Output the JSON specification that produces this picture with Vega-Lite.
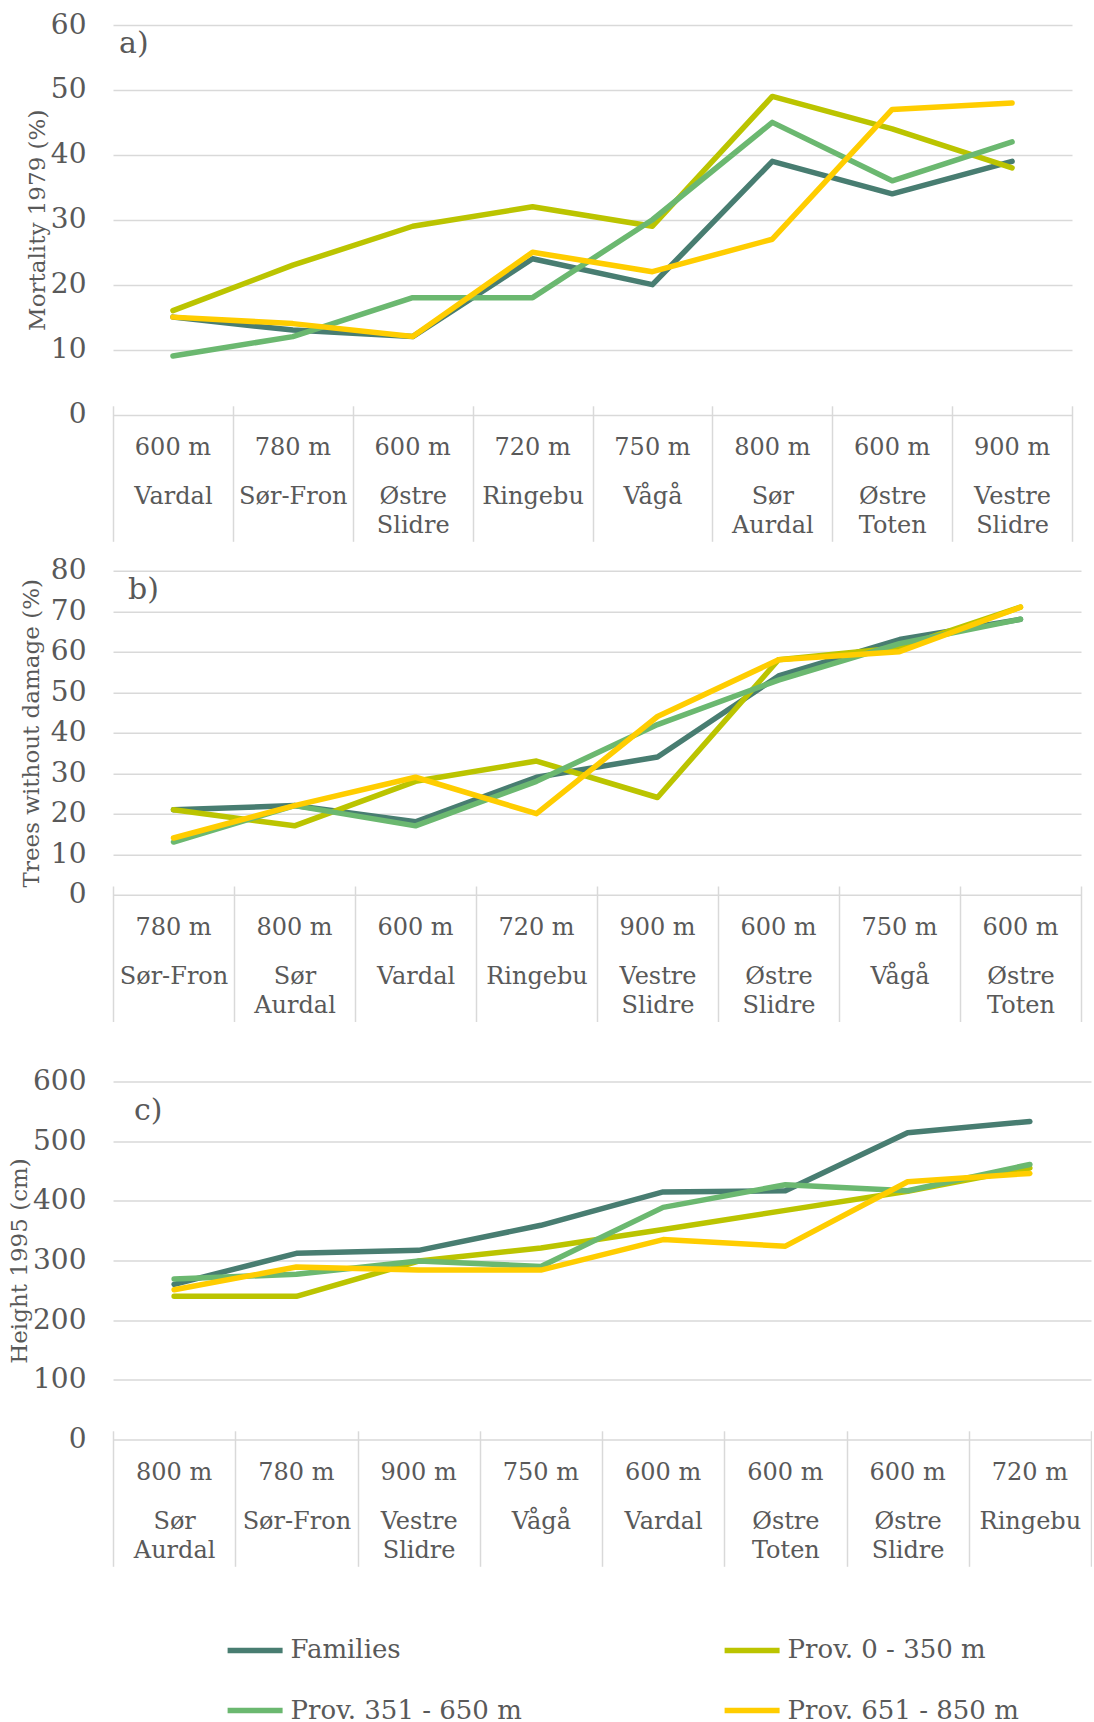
{
  "$schema": "https://vega.github.io/schema/vega-lite/v6.json",
  "padding": {"left": 8, "top": 11, "right": 0, "bottom": 0},
  "background": "white",
  "datasets": {
    "mortality": [
      {"site": "600 m|Vardal", "series": "Families", "v": 15},
      {"site": "780 m|Sør-Fron", "series": "Families", "v": 13},
      {"site": "600 m|Østre Slidre", "series": "Families", "v": 12},
      {"site": "720 m|Ringebu", "series": "Families", "v": 24},
      {"site": "750 m|Vågå", "series": "Families", "v": 20},
      {"site": "800 m|Sør Aurdal", "series": "Families", "v": 39},
      {"site": "600 m|Østre Toten", "series": "Families", "v": 34},
      {"site": "900 m|Vestre Slidre", "series": "Families", "v": 39},
      {"site": "600 m|Vardal", "series": "Prov. 0 - 350 m", "v": 16},
      {"site": "780 m|Sør-Fron", "series": "Prov. 0 - 350 m", "v": 23},
      {"site": "600 m|Østre Slidre", "series": "Prov. 0 - 350 m", "v": 29},
      {"site": "720 m|Ringebu", "series": "Prov. 0 - 350 m", "v": 32},
      {"site": "750 m|Vågå", "series": "Prov. 0 - 350 m", "v": 29},
      {"site": "800 m|Sør Aurdal", "series": "Prov. 0 - 350 m", "v": 49},
      {"site": "600 m|Østre Toten", "series": "Prov. 0 - 350 m", "v": 44},
      {"site": "900 m|Vestre Slidre", "series": "Prov. 0 - 350 m", "v": 38},
      {"site": "600 m|Vardal", "series": "Prov. 351 - 650 m", "v": 9},
      {"site": "780 m|Sør-Fron", "series": "Prov. 351 - 650 m", "v": 12},
      {"site": "600 m|Østre Slidre", "series": "Prov. 351 - 650 m", "v": 18},
      {"site": "720 m|Ringebu", "series": "Prov. 351 - 650 m", "v": 18},
      {"site": "750 m|Vågå", "series": "Prov. 351 - 650 m", "v": 30},
      {"site": "800 m|Sør Aurdal", "series": "Prov. 351 - 650 m", "v": 45},
      {"site": "600 m|Østre Toten", "series": "Prov. 351 - 650 m", "v": 36},
      {"site": "900 m|Vestre Slidre", "series": "Prov. 351 - 650 m", "v": 42},
      {"site": "600 m|Vardal", "series": "Prov. 651 - 850 m", "v": 15},
      {"site": "780 m|Sør-Fron", "series": "Prov. 651 - 850 m", "v": 14},
      {"site": "600 m|Østre Slidre", "series": "Prov. 651 - 850 m", "v": 12},
      {"site": "720 m|Ringebu", "series": "Prov. 651 - 850 m", "v": 25},
      {"site": "750 m|Vågå", "series": "Prov. 651 - 850 m", "v": 22},
      {"site": "800 m|Sør Aurdal", "series": "Prov. 651 - 850 m", "v": 27},
      {"site": "600 m|Østre Toten", "series": "Prov. 651 - 850 m", "v": 47},
      {"site": "900 m|Vestre Slidre", "series": "Prov. 651 - 850 m", "v": 48}
    ],
    "undamaged": [
      {"site": "780 m|Sør-Fron", "series": "Families", "v": 21},
      {"site": "800 m|Sør Aurdal", "series": "Families", "v": 22},
      {"site": "600 m|Vardal", "series": "Families", "v": 18},
      {"site": "720 m|Ringebu", "series": "Families", "v": 29},
      {"site": "900 m|Vestre Slidre", "series": "Families", "v": 34},
      {"site": "600 m|Østre Slidre", "series": "Families", "v": 54},
      {"site": "750 m|Vågå", "series": "Families", "v": 63},
      {"site": "600 m|Østre Toten", "series": "Families", "v": 68},
      {"site": "780 m|Sør-Fron", "series": "Prov. 0 - 350 m", "v": 21},
      {"site": "800 m|Sør Aurdal", "series": "Prov. 0 - 350 m", "v": 17},
      {"site": "600 m|Vardal", "series": "Prov. 0 - 350 m", "v": 28},
      {"site": "720 m|Ringebu", "series": "Prov. 0 - 350 m", "v": 33},
      {"site": "900 m|Vestre Slidre", "series": "Prov. 0 - 350 m", "v": 24},
      {"site": "600 m|Østre Slidre", "series": "Prov. 0 - 350 m", "v": 58},
      {"site": "750 m|Vågå", "series": "Prov. 0 - 350 m", "v": 61},
      {"site": "600 m|Østre Toten", "series": "Prov. 0 - 350 m", "v": 71},
      {"site": "780 m|Sør-Fron", "series": "Prov. 351 - 650 m", "v": 13},
      {"site": "800 m|Sør Aurdal", "series": "Prov. 351 - 650 m", "v": 22},
      {"site": "600 m|Vardal", "series": "Prov. 351 - 650 m", "v": 17},
      {"site": "720 m|Ringebu", "series": "Prov. 351 - 650 m", "v": 28},
      {"site": "900 m|Vestre Slidre", "series": "Prov. 351 - 650 m", "v": 42},
      {"site": "600 m|Østre Slidre", "series": "Prov. 351 - 650 m", "v": 53},
      {"site": "750 m|Vågå", "series": "Prov. 351 - 650 m", "v": 62},
      {"site": "600 m|Østre Toten", "series": "Prov. 351 - 650 m", "v": 68},
      {"site": "780 m|Sør-Fron", "series": "Prov. 651 - 850 m", "v": 14},
      {"site": "800 m|Sør Aurdal", "series": "Prov. 651 - 850 m", "v": 22},
      {"site": "600 m|Vardal", "series": "Prov. 651 - 850 m", "v": 29},
      {"site": "720 m|Ringebu", "series": "Prov. 651 - 850 m", "v": 20},
      {"site": "900 m|Vestre Slidre", "series": "Prov. 651 - 850 m", "v": 44},
      {"site": "600 m|Østre Slidre", "series": "Prov. 651 - 850 m", "v": 58},
      {"site": "750 m|Vågå", "series": "Prov. 651 - 850 m", "v": 60},
      {"site": "600 m|Østre Toten", "series": "Prov. 651 - 850 m", "v": 71}
    ],
    "height": [
      {"site": "800 m|Sør Aurdal", "series": "Families", "v": 260},
      {"site": "780 m|Sør-Fron", "series": "Families", "v": 312},
      {"site": "900 m|Vestre Slidre", "series": "Families", "v": 317},
      {"site": "750 m|Vågå", "series": "Families", "v": 359},
      {"site": "600 m|Vardal", "series": "Families", "v": 415},
      {"site": "600 m|Østre Toten", "series": "Families", "v": 417},
      {"site": "600 m|Østre Slidre", "series": "Families", "v": 514},
      {"site": "720 m|Ringebu", "series": "Families", "v": 533},
      {"site": "800 m|Sør Aurdal", "series": "Prov. 0 - 350 m", "v": 240},
      {"site": "780 m|Sør-Fron", "series": "Prov. 0 - 350 m", "v": 240},
      {"site": "900 m|Vestre Slidre", "series": "Prov. 0 - 350 m", "v": 299},
      {"site": "750 m|Vågå", "series": "Prov. 0 - 350 m", "v": 321},
      {"site": "600 m|Vardal", "series": "Prov. 0 - 350 m", "v": 352},
      {"site": "600 m|Østre Toten", "series": "Prov. 0 - 350 m", "v": 384},
      {"site": "600 m|Østre Slidre", "series": "Prov. 0 - 350 m", "v": 416},
      {"site": "720 m|Ringebu", "series": "Prov. 0 - 350 m", "v": 455},
      {"site": "800 m|Sør Aurdal", "series": "Prov. 351 - 650 m", "v": 269},
      {"site": "780 m|Sør-Fron", "series": "Prov. 351 - 650 m", "v": 277},
      {"site": "900 m|Vestre Slidre", "series": "Prov. 351 - 650 m", "v": 299},
      {"site": "750 m|Vågå", "series": "Prov. 351 - 650 m", "v": 290},
      {"site": "600 m|Vardal", "series": "Prov. 351 - 650 m", "v": 389},
      {"site": "600 m|Østre Toten", "series": "Prov. 351 - 650 m", "v": 427},
      {"site": "600 m|Østre Slidre", "series": "Prov. 351 - 650 m", "v": 417},
      {"site": "720 m|Ringebu", "series": "Prov. 351 - 650 m", "v": 461},
      {"site": "800 m|Sør Aurdal", "series": "Prov. 651 - 850 m", "v": 251},
      {"site": "780 m|Sør-Fron", "series": "Prov. 651 - 850 m", "v": 289},
      {"site": "900 m|Vestre Slidre", "series": "Prov. 651 - 850 m", "v": 284},
      {"site": "750 m|Vågå", "series": "Prov. 651 - 850 m", "v": 284},
      {"site": "600 m|Vardal", "series": "Prov. 651 - 850 m", "v": 335},
      {"site": "600 m|Østre Toten", "series": "Prov. 651 - 850 m", "v": 324},
      {"site": "600 m|Østre Slidre", "series": "Prov. 651 - 850 m", "v": 432},
      {"site": "720 m|Ringebu", "series": "Prov. 651 - 850 m", "v": 446}
    ]
  },
  "vconcat": [
    {
      "vconcat": [
        {
          "data": {"name": "mortality"},
          "width": 959,
          "height": 389.5,
          "title": {"text": "a)", "offset": -48, "dx": 6},
          "encoding": {
            "y": {"field": "v", "type": "quantitative",
                  "scale": {"domain": [0, 60], "nice": false},
                  "axis": {"title": "Mortality 1979 (%)", "titlePadding": 1, "values": [0, 10, 20, 30, 40, 50, 60]}},
            "color": {"field": "series", "type": "nominal",
                      "scale": {"domain": ["Families", "Prov. 0 - 350 m", "Prov. 351 - 650 m", "Prov. 651 - 850 m"],
                                "range": ["#487d71", "#bbc400", "#6bb870", "#ffcd00"]}}
          },
          "layer": [
            {
              "transform": [{"filter": "datum.series === 'Families'"}],
              "mark": "line",
              "encoding": {
                "x": {"field": "site", "type": "nominal", "bandPosition": 0.5,
                      "sort": ["600 m|Vardal", "780 m|Sør-Fron", "600 m|Østre Slidre", "720 m|Ringebu", "750 m|Vågå", "800 m|Sør Aurdal", "600 m|Østre Toten", "900 m|Vestre Slidre"],
                      "scale": {"type": "band", "paddingInner": 0, "paddingOuter": 0},
                      "axis": {"orient": "bottom", "ticks": false, "tickSize": 0, "labelPadding": 40,
                               "labelExpr": "isValid(datum.value) ? split(datum.value, '|')[0] : ''"}}
              }
            },
            {
              "transform": [{"filter": "datum.series !== 'Families'"}],
              "mark": "line",
              "encoding": {
                "x": {"field": "site", "type": "nominal", "bandPosition": 0.5,
                      "sort": ["600 m|Vardal", "780 m|Sør-Fron", "600 m|Østre Slidre", "720 m|Ringebu", "750 m|Vågå", "800 m|Sør Aurdal", "600 m|Østre Toten", "900 m|Vestre Slidre"],
                      "scale": {"type": "band", "paddingInner": 0, "paddingOuter": 0},
                      "axis": {"orient": "bottom", "ticks": true, "tickBand": "extent", "tickSize": 135.5, "offset": -8.7,
                               "labelPadding": -38.3, "labelLineHeight": 29.5,
                               "labelExpr": "isValid(datum.value) ? split(split(datum.value, '|')[1], ' ') : ''"}}
              }
            }
          ],
          "resolve": {"axis": {"x": "independent"}}
        },
        {
          "data": {"name": "undamaged"},
          "width": 968,
          "height": 324,
          "title": {"text": "b)", "offset": -48, "dx": 15},
          "encoding": {
            "y": {"field": "v", "type": "quantitative",
                  "scale": {"domain": [0, 80], "nice": false},
                  "axis": {"title": "Trees without damage (%)", "titlePadding": 7, "values": [0, 10, 20, 30, 40, 50, 60, 70, 80]}},
            "color": {"field": "series", "type": "nominal"}
          },
          "layer": [
            {
              "transform": [{"filter": "datum.series === 'Families'"}],
              "mark": "line",
              "encoding": {
                "x": {"field": "site", "type": "nominal", "bandPosition": 0.5,
                      "sort": ["780 m|Sør-Fron", "800 m|Sør Aurdal", "600 m|Vardal", "720 m|Ringebu", "900 m|Vestre Slidre", "600 m|Østre Slidre", "750 m|Vågå", "600 m|Østre Toten"],
                      "scale": {"type": "band", "paddingInner": 0, "paddingOuter": 0},
                      "axis": {"orient": "bottom", "ticks": false, "tickSize": 0, "labelPadding": 40,
                               "labelExpr": "isValid(datum.value) ? split(datum.value, '|')[0] : ''"}}
              }
            },
            {
              "transform": [{"filter": "datum.series !== 'Families'"}],
              "mark": "line",
              "encoding": {
                "x": {"field": "site", "type": "nominal", "bandPosition": 0.5,
                      "sort": ["780 m|Sør-Fron", "800 m|Sør Aurdal", "600 m|Vardal", "720 m|Ringebu", "900 m|Vestre Slidre", "600 m|Østre Slidre", "750 m|Vågå", "600 m|Østre Toten"],
                      "scale": {"type": "band", "paddingInner": 0, "paddingOuter": 0},
                      "axis": {"orient": "bottom", "ticks": true, "tickBand": "extent", "tickSize": 135.5, "offset": -8.7,
                               "labelPadding": -38.3, "labelLineHeight": 29.5,
                               "labelExpr": "isValid(datum.value) ? split(split(datum.value, '|')[1], ' ') : ''"}}
              }
            }
          ],
          "resolve": {"axis": {"x": "independent"}}
        }
      ],
      "spacing": 13.7
    },
    {
      "data": {"name": "height"},
      "width": 978,
      "height": 358,
      "title": {"text": "c)", "offset": -58, "dx": 21},
      "encoding": {
        "y": {"field": "v", "type": "quantitative",
              "scale": {"domain": [0, 600], "nice": false},
              "axis": {"title": "Height 1995 (cm)", "titlePadding": 1, "values": [0, 100, 200, 300, 400, 500, 600]}},
        "color": {"field": "series", "type": "nominal"}
      },
      "layer": [
        {
          "transform": [{"filter": "datum.series === 'Families'"}],
          "mark": "line",
          "encoding": {
            "x": {"field": "site", "type": "nominal", "bandPosition": 0.5,
                  "sort": ["800 m|Sør Aurdal", "780 m|Sør-Fron", "900 m|Vestre Slidre", "750 m|Vågå", "600 m|Vardal", "600 m|Østre Toten", "600 m|Østre Slidre", "720 m|Ringebu"],
                  "scale": {"type": "band", "paddingInner": 0, "paddingOuter": 0},
                  "axis": {"orient": "bottom", "ticks": false, "tickSize": 0, "labelPadding": 40,
                           "labelExpr": "isValid(datum.value) ? split(datum.value, '|')[0] : ''"}}
          }
        },
        {
          "transform": [{"filter": "datum.series !== 'Families'"}],
          "mark": "line",
          "encoding": {
            "x": {"field": "site", "type": "nominal", "bandPosition": 0.5,
                  "sort": ["800 m|Sør Aurdal", "780 m|Sør-Fron", "900 m|Vestre Slidre", "750 m|Vågå", "600 m|Vardal", "600 m|Østre Toten", "600 m|Østre Slidre", "720 m|Ringebu"],
                  "scale": {"type": "band", "paddingInner": 0, "paddingOuter": 0},
                  "axis": {"orient": "bottom", "ticks": true, "tickBand": "extent", "tickSize": 135.5, "offset": -8.7,
                           "labelPadding": -38.3, "labelLineHeight": 29.5,
                           "labelExpr": "isValid(datum.value) ? split(split(datum.value, '|')[1], ' ') : ''"}}
          }
        }
      ],
      "resolve": {"axis": {"x": "independent"}}
    }
  ],
  "spacing": 44.5,
  "config": {
    "font": "DejaVu Serif",
    "view": {"stroke": null},
    "title": {"anchor": "start", "frame": "group", "orient": "top", "fontSize": 30, "fontWeight": "normal", "color": "#595959", "font": "DejaVu Serif"},
    "axis": {
      "labelColor": "#595959", "titleColor": "#595959",
      "labelFont": "DejaVu Serif", "titleFont": "DejaVu Serif", "titleFontWeight": "normal",
      "gridColor": "#d9d9d9", "gridWidth": 1.5, "domain": false
    },
    "axisY": {"ticks": false, "grid": true, "labelFontSize": 28, "labelPadding": 27, "titleFontSize": 23},
    "axisX": {
      "title": null, "grid": false, "labelAngle": 0, "labelOverlap": false, "labelBound": false,
      "tickColor": "#d9d9d9", "tickWidth": 1.5, "labelBaseline": "alphabetic",
      "labelFontSize": 24, "labelLimit": 300
    },
    "line": {"strokeWidth": 5.5, "strokeCap": "round", "strokeJoin": "round"},
    "legend": {
      "orient": "none", "legendX": 111.6, "legendY": 1594.7, "direction": "horizontal", "columns": 2, "columnPadding": 199, "rowPadding": 16.3,
      "title": null, "symbolType": "stroke", "symbolSize": 3025, "symbolStrokeWidth": 6,
      "labelFontSize": 26, "labelColor": "#595959", "labelFont": "DejaVu Serif", "labelOffset": 5, "labelLimit": 400
    }
  }
}
